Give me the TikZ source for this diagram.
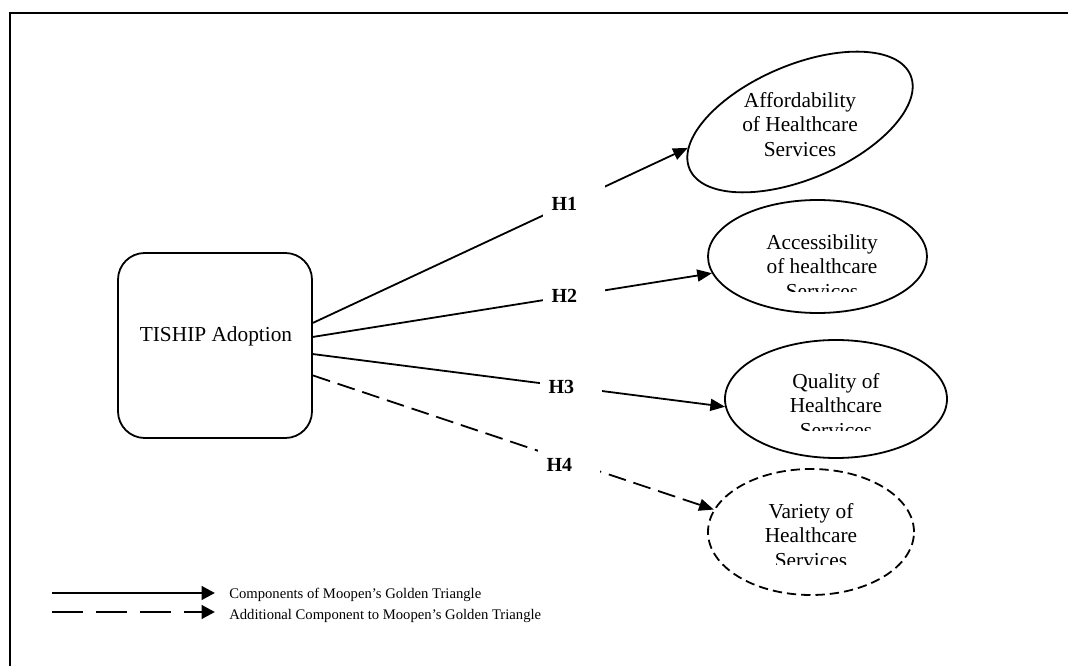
\documentclass[tikz,border=0pt]{standalone}
\usepackage{fontspec}
\setmainfont{Liberation Serif}
\usetikzlibrary{shapes.geometric,arrows.meta}
\begin{document}
\begin{tikzpicture}[x=0.75pt, y=-0.75pt,
  conn/.style={line width=1.35pt},
  tipA/.style={-{Triangle[length=11pt,width=9pt]}},
  tipB/.style={-{Triangle[length=10pt,width=10pt]}},
  dashconn/.style={dash pattern=on 13.5pt off 6pt},
  ell/.style={ellipse, draw, line width=1.35pt, inner sep=0pt},
  etext/.style={font=\fontsize{16}{18.4}\selectfont, align=center, anchor=north, inner sep=0pt},
  boxnode/.style={draw, rounded corners=20pt, line width=1.35pt, minimum width=145.5pt, minimum height=138.75pt, inner sep=0pt},
  hlab/.style={fill=white, inner xsep=0pt, inner ysep=0pt, minimum height=30pt, text width=46.5pt, align=left, font=\fontsize{15}{18}\selectfont\bfseries, execute at begin node=\hspace*{6.5pt}},
  legline/.style={line width=2.2pt},
  legtext/.style={font=\fontsize{11}{13}\selectfont, inner sep=0pt, anchor=base west}
]
\useasboundingbox (0,0) rectangle (1068,666);
% frame
\draw[line width=1.5pt] (10,666) -- (10,13) -- (1068,13);

% central box
\node[boxnode] (tiship) at (215,345.5) {};
\node[font=\fontsize{16}{19}\selectfont, anchor=base, inner sep=0pt] (tistext) at (216,342) {TISHIP Adoption};

% ellipses
\node[ell, rotate=23, minimum width=180pt, minimum height=85.5pt] (e1) at (800,122) {};
\node[ell, minimum width=164.25pt, minimum height=84.75pt] (e2) at (817.5,256.5) {};
\node[ell, minimum width=166.5pt, minimum height=88.5pt] (e3) at (836,399) {};
\node[ell, dash pattern=on 7pt off 3.75pt, minimum width=154.5pt, minimum height=94.5pt] (e4) at (811,532) {};

\begin{scope}
\clip (690,60) rectangle (920,157);
\node[etext] (t1) at (800,91) {\rule{0pt}{12pt}Affordability\\of Healthcare\\Services};
\end{scope}
\begin{scope}
\clip (700,200) rectangle (940,292);
\node[etext] (t2) at (822,233) {\rule{0pt}{12pt}Accessibility\\of healthcare\\Services};
\end{scope}
\begin{scope}
\clip (720,340) rectangle (950,431);
\node[etext] (t3) at (836,372) {\rule{0pt}{12pt}Quality of\\Healthcare\\Services};
\end{scope}
\begin{scope}
\clip (700,470) rectangle (920,564);
\node[etext] (t4) at (811,502) {\rule{0pt}{12pt}Variety of\\Healthcare\\Services};
\end{scope}

% connectors
\draw[conn, tipA] (tiship.13) -- (e1.170);
\draw[conn, tipA] (tiship.5) -- (e2.189.4);
\draw[conn, tipA] (tiship.-5.6) -- (e3.184.8);
\draw[conn, tipA, dashconn] (tiship.-17.5) -- (e4.167.7);

% hypothesis labels
\node[hlab] (h1) at (574,204) {H1};
\node[hlab] (h2) at (574,296) {H2};
\node[hlab] (h3) at (571,387) {H3};
\node[hlab] (h4) at (569,465) {H4};

% legend
\coordinate (la1) at (52,593);
\coordinate (lb1) at (215,593);
\coordinate (la2) at (52,612);
\coordinate (lb2) at (215,612);
\draw[legline, tipB] (la1) -- (lb1);
\draw[legline, tipB, dash pattern=on 23.25pt off 9.75pt] (la2) -- (lb2);
\node[legtext] (leg1) at (229,598) {Components of Moopen’s Golden Triangle};
\node[legtext] (leg2) at (229,619) {Additional Component to Moopen’s Golden Triangle};
\end{tikzpicture}
\end{document}
